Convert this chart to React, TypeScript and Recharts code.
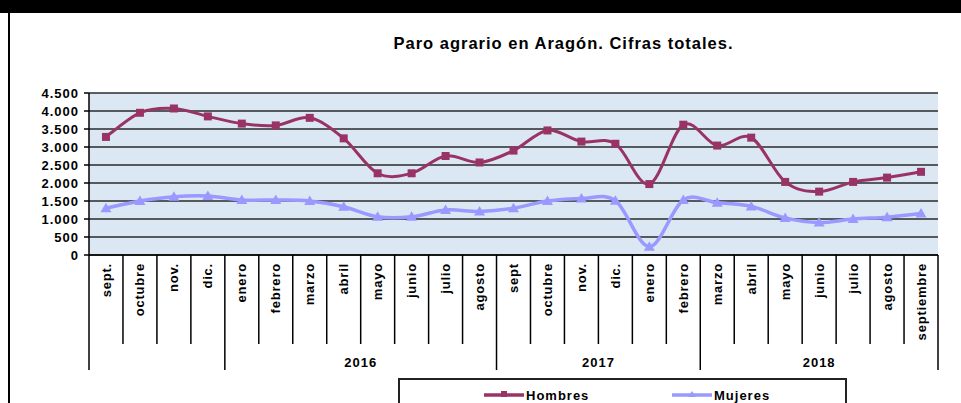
import React from 'react'
import { LineChart, Line, XAxis, YAxis, CartesianGrid } from 'recharts'

const MONTHS = [
  'sept.', 'octubre', 'nov.', 'dic.', 'enero', 'febrero', 'marzo', 'abril', 'mayo', 'junio', 'julio', 'agosto',
  'sept', 'octubre', 'nov.', 'dic.', 'enero', 'febrero',
  'marzo', 'abril', 'mayo', 'junio', 'julio', 'agosto', 'septiembre',
]

const HOMBRES = [
  3280, 3950, 4070, 3850, 3650, 3600, 3810, 3240, 2270, 2270, 2750, 2570,
  2900, 3460, 3150, 3090, 1970, 3620,
  3040, 3260, 2030, 1760, 2030, 2150, 2310,
]

const MUJERES = [
  1300, 1500, 1620, 1640, 1530, 1530, 1500, 1340, 1060, 1060, 1250, 1210,
  1300, 1500, 1570, 1510, 230, 1530,
  1450, 1350, 1030, 900, 1000, 1050, 1150,
]

// year band under the month labels (first group has no label)
const YEARS = ['', '2016', '2017', '2018']
const YEAR_SPANS = [4, 8, 6, 7]

const Y_TICKS = [0, 500, 1000, 1500, 2000, 2500, 3000, 3500, 4000, 4500]

const data = MONTHS.map((m, i) => ({ mes: m, hombres: HOMBRES[i], mujeres: MUJERES[i] }))

const W = 961
const H = 403
const PLOT_LEFT = 89
const PLOT_RIGHT = 938
const PLOT_TOP = 93
const XAXIS_H = 148
const AXIS_Y = H - XAXIS_H
const BAND = (PLOT_RIGHT - PLOT_LEFT) / MONTHS.length
const FONT = '"Liberation Sans", Arial, sans-serif'

const groupStarts: number[] = []
YEAR_SPANS.reduce((acc, n) => {
  groupStarts.push(acc)
  return acc + n
}, 0)

const fmt = (v: number) =>
  v >= 1000 ? `${Math.floor(v / 1000)}.${String(v % 1000).padStart(3, '0')}` : String(v)

// Excel-like smoothed line (Catmull-Rom through points)
function excelCurve(context: any) {
  let pts: [number, number][] = []
  return {
    areaStart() {},
    areaEnd() {},
    lineStart() {
      pts = []
    },
    lineEnd() {
      if (!pts.length) return
      context.moveTo(pts[0][0], pts[0][1])
      for (let i = 0; i < pts.length - 1; i++) {
        const p0 = pts[i - 1] || pts[i]
        const p1 = pts[i]
        const p2 = pts[i + 1]
        const p3 = pts[i + 2] || p2
        context.bezierCurveTo(
          p1[0] + (p2[0] - p0[0]) / 6, p1[1] + (p2[1] - p0[1]) / 6,
          p2[0] - (p3[0] - p1[0]) / 6, p2[1] - (p3[1] - p1[1]) / 6,
          p2[0], p2[1],
        )
      }
    },
    point(x: number, y: number) {
      pts.push([+x, +y])
    },
  }
}

function MonthTick(props: any) {
  const { x, payload } = props
  const i = payload.index
  const left = x - BAND / 2
  const g = groupStarts.indexOf(i)
  const last = i === MONTHS.length - 1
  return (
    <g>
      <line x1={left} x2={left} y1={AXIS_Y} y2={g >= 0 ? 370 : 344} stroke="#000" strokeWidth={1.5} />
      {last && <line x1={left + BAND} x2={left + BAND} y1={AXIS_Y} y2={370} stroke="#000" strokeWidth={1.5} />}
      <text
        x={x}
        y={263}
        transform={`rotate(-90, ${x}, 263)`}
        textAnchor="end"
        dy="0.35em"
        fontSize={13}
        fontWeight="bold"
        letterSpacing={0.8}
        fill="#000"
        fontFamily={FONT}
      >
        {payload.value}
      </text>
      {g >= 0 && YEARS[g] && (
        <text
          x={left + (YEAR_SPANS[g] * BAND) / 2}
          y={366.5}
          textAnchor="middle"
          fontSize={13}
          fontWeight="bold"
          letterSpacing={1}
          fill="#000"
          fontFamily={FONT}
        >
          {YEARS[g]}
        </text>
      )}
    </g>
  )
}

const SquareDot = (p: any) => (
  <rect key={`h-${p.index}`} x={p.cx - 4} y={p.cy - 4} width={8} height={8} fill="#993366" />
)

const TriDot = (p: any) => (
  <path
    key={`m-${p.index}`}
    d={`M${p.cx},${p.cy - 5.5} L${p.cx + 5.5},${p.cy + 4} L${p.cx - 5.5},${p.cy + 4} Z`}
    fill="#9999ff"
  />
)

function LegendItem({ color, label, tri }: { color: string; label: string; tri?: boolean }) {
  return (
    <span style={{ display: 'inline-flex', alignItems: 'center' }}>
      <svg width={40} height={12}>
        <line x1={0} x2={40} y1={6} y2={6} stroke={color} strokeWidth={3.5} />
        {tri ? (
          <path d="M20,2 L24,8 L16,8 Z" fill={color} />
        ) : (
          <rect x={17} y={2} width={6} height={6} fill={color} />
        )}
      </svg>
      <span style={{ marginLeft: 2, fontSize: 13, fontWeight: 'bold', letterSpacing: 1 }}>{label}</span>
    </span>
  )
}

export default function App() {
  return (
    <div style={{ position: 'relative', width: W, height: H, overflow: 'hidden', background: '#fff', fontFamily: FONT }}>
      <style>{'body{margin:0}'}</style>
      <div style={{ position: 'absolute', left: 0, top: 0, width: W, height: 13, background: '#000' }} />
      <div style={{ position: 'absolute', left: 8, top: 13, width: 2, height: H - 13, background: '#000' }} />
      <div
        style={{
          position: 'absolute',
          left: 0,
          width: 1127,
          top: 34,
          textAlign: 'center',
          fontSize: 16.5,
          fontWeight: 'bold',
          letterSpacing: 1,
          color: '#000',
        }}
      >
        Paro agrario en Aragón. Cifras totales.
      </div>

      <div style={{ position: 'absolute', left: 0, top: 0 }}>
        <LineChart width={W} height={H} data={data} margin={{ top: PLOT_TOP, right: W - PLOT_RIGHT, left: 0, bottom: 0 }}>
          <CartesianGrid
            yAxisId="left"
            vertical={false}
            fill="#dce7f4"
            stroke="#2b2b2b"
            strokeWidth={1.5}
          />
          <XAxis
            dataKey="mes"
            height={XAXIS_H}
            interval={0}
            padding={{ left: BAND / 2, right: BAND / 2 }}
            tickLine={false}
            tickSize={0}
            tickMargin={0}
            axisLine={{ stroke: '#000', strokeWidth: 1.5 }}
            tick={(p: any) => <MonthTick key={`t-${p.index}`} {...p} />}
          />
          <YAxis
            yAxisId="left"
            width={PLOT_LEFT}
            domain={[0, 4500]}
            ticks={Y_TICKS}
            interval={0}
            tickFormatter={fmt}
            tickSize={5}
            tickMargin={5}
            axisLine={{ stroke: '#000', strokeWidth: 1.5 }}
            tickLine={{ stroke: '#000', strokeWidth: 1.5 }}
            tick={{ fill: '#000', fontSize: 13, fontWeight: 'bold', fontFamily: FONT, letterSpacing: 1 }}
          />
          <YAxis
            yAxisId="right"
            orientation="right"
            width={0}
            domain={[0, 4500]}
            tick={false}
            tickLine={false}
            axisLine={{ stroke: '#333', strokeWidth: 2 }}
          />
          <Line
            yAxisId="left"
            dataKey="hombres"
            type={excelCurve as any}
            stroke="#993366"
            strokeWidth={3}
            dot={SquareDot}
            isAnimationActive={false}
          />
          <Line
            yAxisId="left"
            dataKey="mujeres"
            type={excelCurve as any}
            stroke="#9999ff"
            strokeWidth={3.5}
            dot={TriDot}
            isAnimationActive={false}
          />
        </LineChart>
      </div>

      <div
        style={{
          position: 'absolute',
          left: 398,
          top: 378,
          width: 449,
          height: 40,
          border: '2px solid #222',
          boxSizing: 'border-box',
        }}
      >
        <div style={{ position: 'absolute', left: 84, top: 7 }}>
          <LegendItem color="#993366" label="Hombres" />
        </div>
        <div style={{ position: 'absolute', left: 272, top: 7 }}>
          <LegendItem color="#9999ff" label="Mujeres" tri />
        </div>
      </div>
    </div>
  )
}
